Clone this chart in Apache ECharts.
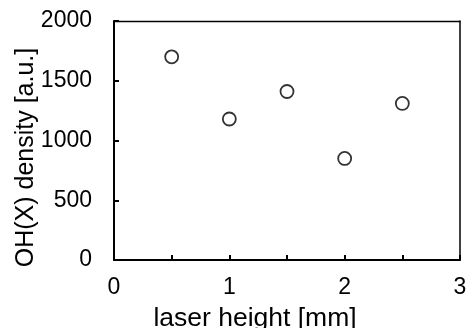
<!DOCTYPE html>
<html><head><meta charset="utf-8">
<script src="https://cdn.jsdelivr.net/npm/echarts@6/dist/echarts.min.js"></script>
<style>html,body{margin:0;padding:0;background:#fff}#c{width:466px;height:328px}</style>
</head><body><div id="c"></div>
<script>
const heights = [0.5, 1.0, 1.5, 2.0, 2.5];
const densities = [1700, 1180, 1410, 850, 1310];
const xTickLabels = ['0', '1', '2', '3'];
const yTickLabels = ['0', '500', '1000', '1500', '2000'];

const font = 'Liberation Sans, Arial, sans-serif';
const chart = echarts.init(document.getElementById('c'));
chart.setOption({
  animation: false,
  backgroundColor: '#fff',
  grid: {left: 114, top: 21, right: 6, bottom: 68, show: false, containLabel: false, outerBoundsMode: 'none'},
  xAxis: [{
    type: 'value', min: 0, max: 3, interval: 0.5,
    name: 'laser height [mm]', nameLocation: 'middle', nameGap: 45, nameMoveOverlap: false,
    nameTextStyle: {fontFamily: font, fontSize: 26.5, color: '#000', padding: [0, 64, 0, 0]},
    axisLine: {lineStyle: {color: '#000', width: 2}},
    axisTick: {inside: true, length: 5, lineStyle: {color: '#000', width: 2}},
    axisLabel: {fontFamily: font, fontSize: 23, color: '#000', margin: 16,
      formatter: v => xTickLabels.includes(String(v)) ? String(v) : ''},
    splitLine: {show: false}
  }, {
    type: 'value', min: 0, max: 3, position: 'top',
    axisLine: {show: true, onZero: false, lineStyle: {color: '#000', width: 1.3}},
    axisTick: {show: false}, axisLabel: {show: false}, splitLine: {show: false}
  }],
  yAxis: [{
    type: 'value', min: 0, max: 2000, interval: 500,
    name: 'OH(X) density [a.u.]', nameLocation: 'middle', nameGap: 75, nameMoveOverlap: false,
    nameTextStyle: {fontFamily: font, fontSize: 25, color: '#000', padding: [0, 34, 0, 0]},
    axisLine: {show: true, lineStyle: {color: '#000', width: 2}},
    axisTick: {show: true, inside: true, length: 5, lineStyle: {color: '#000', width: 2}},
    axisLabel: {fontFamily: font, fontSize: 23, color: '#000', margin: 22,
      formatter: v => yTickLabels.includes(String(v)) ? String(v) : ''},
    splitLine: {show: false}
  }, {
    type: 'value', min: 0, max: 2000, position: 'right',
    axisLine: {show: true, onZero: false, lineStyle: {color: '#000', width: 1.5}},
    axisTick: {show: false}, axisLabel: {show: false}, splitLine: {show: false}
  }],
  series: [{
    type: 'scatter',
    data: heights.map((h, i) => [h, densities[i]]),
    symbol: 'circle', symbolSize: 13,
    itemStyle: {color: '#fff', borderColor: '#000', borderWidth: 1.8}
  }]
});
</script></body></html>
